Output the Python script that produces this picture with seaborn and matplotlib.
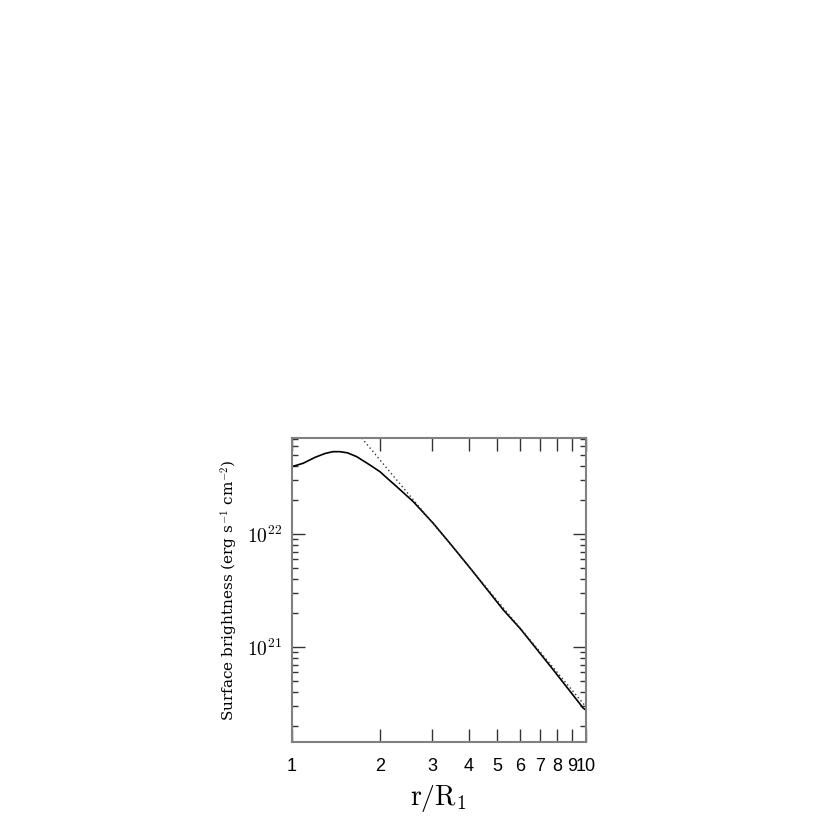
import numpy as np
import matplotlib
matplotlib.use("Agg")
import matplotlib.pyplot as plt
import matplotlib.ticker as mticker
import seaborn as sns

# --- data ---
r_model = [1.00, 1.095, 1.20, 1.30, 1.382, 1.46, 1.55, 1.664, 1.846, 1.996, 2.131,
           2.276, 2.593, 3.030, 3.453, 4.093, 5.245, 5.977, 7.76, 9.82, 10.0]
sb_model = [3.96e22, 4.25e22, 4.79e22, 5.19e22, 5.38e22, 5.38e22, 5.25e22, 4.86e22,
            4.10e22, 3.58e22, 3.07e22, 2.64e22, 1.94e22, 1.25e22, 8.32e21,
            4.83e21, 2.14e21, 1.47e21, 6.30e20, 2.88e20, 2.79e20]

r_power = [1.73, 2.0, 3.0, 5.0, 10.0]
sb_power = [7.11e22, 4.52e22, 1.28e22, 2.59e21, 2.99e20]

x_ticks = [1, 2, 3, 4, 5, 6, 7, 8, 9, 10]
x_ticklabels = ["1", "2", "3", "4", "5", "6", "7", "8", "9", "10"]
y_ticks = [1e21, 1e22]
y_ticklabels = [r"$10^{21}$", r"$10^{22}$"]

sns.set_style("white")
plt.rcParams["mathtext.fontset"] = "cm"
plt.rcParams["font.family"] = ["DejaVu Serif", "DejaVu Sans"]
plt.rcParams["text.color"] = "black"
plt.rcParams["axes.labelcolor"] = "black"
plt.rcParams["xtick.color"] = "black"
plt.rcParams["ytick.color"] = "black"

fig = plt.figure(figsize=(8.3, 8.3), dpi=100)
ax = fig.add_axes([0.3514, 0.1064, 0.3543, 0.3659])

sns.lineplot(x=r_model, y=sb_model, ax=ax, color="black", lw=1.2,
             sort=False, estimator=None)
sns.lineplot(x=r_power, y=sb_power, ax=ax, color="#333333", lw=1.0,
             sort=False, estimator=None, linestyle=(0, (1, 2)))

ax.set_xscale("log")
ax.set_yscale("log")
ax.set_xlim(1, 10)
ax.set_ylim(1.46e20, 7.11e22)

ax.xaxis.set_major_locator(mticker.FixedLocator(x_ticks))
ax.xaxis.set_major_formatter(mticker.FixedFormatter(x_ticklabels))
ax.xaxis.set_minor_locator(mticker.NullLocator())
ax.yaxis.set_major_locator(mticker.FixedLocator(y_ticks))
ax.yaxis.set_major_formatter(mticker.FixedFormatter(y_ticklabels))
ax.yaxis.set_minor_locator(mticker.LogLocator(base=10, subs=np.arange(2, 10)))
ax.yaxis.set_minor_formatter(mticker.NullFormatter())

ax.tick_params(axis="x", which="major", direction="in", length=9.5, width=1.0,
               color="#333333", labelcolor="black", top=True, bottom=True, pad=12)
ax.tick_params(axis="y", which="major", direction="in", length=9.5, width=1.0,
               color="#333333", labelcolor="black", left=True, right=True,
               pad=7, labelsize=14)
ax.tick_params(axis="y", which="minor", direction="in", length=4.5, width=1.0,
               color="#333333", left=True, right=True)

for lab in ax.get_xticklabels():
    lab.set_family("Liberation Sans")
    lab.set_fontsize(13)
    lab.set_color("black")

for s in ax.spines.values():
    s.set_color("#808080")
    s.set_linewidth(1.5)
    s.set_visible(True)

ax.set_ylabel(r"Surface brightness (erg s$^{-1}$ cm$^{-2}$)", fontsize=11,
              color="black")
ax.yaxis.set_label_coords(-0.175, 0.5)
ax.set_xlabel(r"$\mathrm{r/R_1}$", fontsize=20, color="black")
ax.xaxis.set_label_coords(0.5, -0.135)

fig.savefig("out.png", dpi=100)
